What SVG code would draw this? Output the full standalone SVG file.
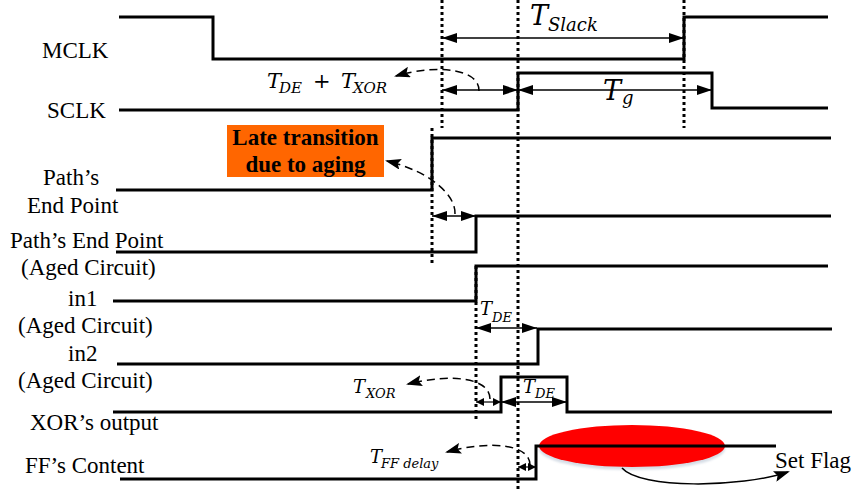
<svg xmlns="http://www.w3.org/2000/svg" width="855" height="495" viewBox="0 0 855 495">
<style>
.sig{fill:none;stroke:#000;stroke-width:3;stroke-linejoin:miter}
.dot{stroke:#000;stroke-width:3;stroke-dasharray:3 3}
.dim{fill:none;stroke:#000;stroke-width:1.3;marker-start:url(#ah);marker-end:url(#ah)}
.dims{fill:none;stroke:#000;stroke-width:1.2;marker-start:url(#as);marker-end:url(#as)}
.dash{fill:none;stroke:#000;stroke-width:1.5;stroke-dasharray:8 5;marker-end:url(#ad)}
.lbl{font-family:"Liberation Serif","Times New Roman",serif;font-size:23px;fill:#000}
.bold{font-family:"Liberation Serif","Times New Roman",serif;font-size:23px;font-weight:bold;fill:#000}
.m{font-family:"DejaVu Serif","Liberation Serif",serif;font-style:italic;fill:#000}
</style>
<defs>
<marker id="ah" markerUnits="userSpaceOnUse" markerWidth="15" markerHeight="10" refX="15" refY="5" orient="auto-start-reverse"><path d="M0,0 L15,5 L0,10 Z" fill="#000"/></marker>
<marker id="as" markerUnits="userSpaceOnUse" markerWidth="8" markerHeight="8" refX="8" refY="4" orient="auto-start-reverse"><path d="M0,0 L8,4 L0,8 Z" fill="#000"/></marker>
<marker id="ad" markerUnits="userSpaceOnUse" markerWidth="16" markerHeight="11" refX="14" refY="5.5" orient="auto"><path d="M0,0 L16,5.5 L0,11 L3,5.5 Z" fill="#000"/></marker>
<filter id="soft" x="-10%" y="-20%" width="120%" height="150%"><feGaussianBlur stdDeviation="1.2"/></filter>
</defs>

<g id="guides">
<line class="dot" x1="442" y1="0" x2="442" y2="128"/>
<line class="dot" x1="518" y1="0" x2="518" y2="492"/>
<line class="dot" x1="684" y1="0" x2="684" y2="128"/>
<line class="dot" x1="432" y1="128" x2="432" y2="265"/>
<line class="dot" x1="476" y1="266" x2="476" y2="420"/>
</g>

<g id="flag-mark">
<ellipse cx="632" cy="447" rx="93" ry="21" fill="#8a9fb8" opacity="0.35" filter="url(#soft)" transform="translate(0,2)"/>
<ellipse cx="632" cy="446" rx="93" ry="21" fill="#ff0000"/>
</g>

<g id="MCLK">
<text class="lbl" x="42" y="58">MCLK</text>
<path class="sig" d="M119,17 H213 V59 H684 V17 H828"/>
</g>
<g id="SCLK">
<text class="lbl" x="47" y="118">SCLK</text>
<path class="sig" d="M119,110 H518 V73 H712 V108 H828"/>
</g>
<g id="path-end">
<text class="lbl" x="43" y="185">Path’s</text>
<text class="lbl" x="27" y="213">End Point</text>
<path class="sig" d="M116,190 H432 V138 H831"/>
</g>
<g id="path-end-aged">
<text class="lbl" x="10" y="248">Path’s End Point</text>
<text class="lbl" x="21" y="275">(Aged Circuit)</text>
<path class="sig" d="M116,252 H476 V216 H831"/>
</g>
<g id="in1">
<text class="lbl" x="68" y="306">in1</text>
<text class="lbl" x="18" y="333">(Aged Circuit)</text>
<path class="sig" d="M113,301 H476 V266 H828"/>
</g>
<g id="in2">
<text class="lbl" x="68" y="361">in2</text>
<text class="lbl" x="18" y="388">(Aged Circuit)</text>
<path class="sig" d="M117,364 H538 V329 H832"/>
</g>
<g id="xor-out">
<text class="lbl" x="30" y="430">XOR’s output</text>
<path class="sig" d="M113,412 H501 V377 H567 V412 H832"/>
</g>
<g id="ff-content">
<text class="lbl" x="25" y="473">FF’s Content</text>
<path class="sig" d="M120,479 H536 V446 H776"/>
</g>

<g id="late-note">
<rect x="227" y="125" width="157" height="52" fill="#ff6600"/>
<text class="bold" x="305.5" y="145" text-anchor="middle">Late transition</text>
<text class="bold" x="305.5" y="172" text-anchor="middle">due to aging</text>
</g>

<g id="connectors">
<path class="dim" d="M442,38 H684"/>
<path class="dim" d="M442,90 H518"/>
<path class="dim" d="M518,90 H712"/>
<path class="dim" d="M432,216 H476"/>
<path class="dim" d="M476,328 H537"/>
<path class="dims" d="M476,402 H501"/>
<path class="dim" d="M501,402 H567"/>
<path class="dims" d="M518,467 H536"/>
<path class="dash" d="M479,91 C480,70 440,63 396,76"/>
<path class="dash" d="M455,214 C456,196 432,172 387,161"/>
<path class="dash" d="M490,399 C490,378 452,373 408,384"/>
<path class="dash" d="M530,465 C530,444 490,440 447,452"/>
<path d="M622,468 C640,489 740,488 788,472" fill="none" stroke="#000" stroke-width="1.5" marker-end="url(#ad)"/>
</g>

<g id="labels">
<text class="m" x="530" y="25" font-size="27">T</text><text class="m" x="548" y="31" font-size="18">Slack</text>
<text class="m" x="603" y="100" font-size="27">T</text><text class="m" x="622" y="104" font-size="18">g</text>
<text class="m" x="267" y="88" font-size="21">T</text><text class="m" x="279" y="93" font-size="15">DE</text>
<text x="313" y="88" font-size="21" font-family="DejaVu Serif, serif">+</text>
<text class="m" x="341" y="88" font-size="21">T</text><text class="m" x="353" y="93" font-size="15">XOR</text>
<text class="m" x="480" y="315" font-size="18">T</text><text class="m" x="492" y="322" font-size="13">DE</text>
<text class="m" x="523" y="393" font-size="18">T</text><text class="m" x="535" y="398" font-size="13">DE</text>
<text class="m" x="353" y="393" font-size="18">T</text><text class="m" x="366" y="398" font-size="13">XOR</text>
<text class="m" x="370" y="463" font-size="18">T</text><text class="m" x="381" y="468" font-size="13">FF delay</text>
<text class="lbl" x="775" y="468">Set Flag</text>
</g>
</svg>
